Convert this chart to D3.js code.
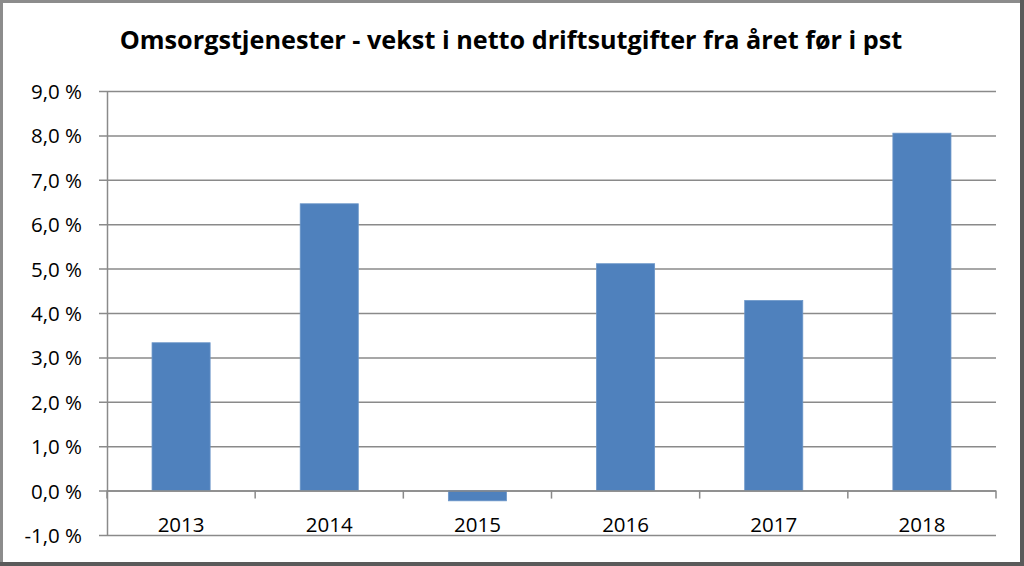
<!DOCTYPE html>
<html><head><meta charset="utf-8">
<script src="https://cdn.jsdelivr.net/npm/d3@7"></script>
<style>html,body{margin:0;padding:0;background:#fff;}svg{display:block;}</style>
</head><body>
<script>
const categories = ["2013","2014","2015","2016","2017","2018"];
const values = [3.33, 6.46, -0.23, 5.11, 4.28, 8.05];
const yTicks = [-1,0,1,2,3,4,5,6,7,8,9];
const title = "Omsorgstjenester - vekst i netto driftsutgifter fra året før i pst";

(function(){
const W = 1024, H = 566;
const svg = d3.select("body").append("svg").attr("width", W).attr("height", H);
svg.append("rect").attr("x",0).attr("y",0).attr("width",W).attr("height",H).attr("fill","#fff");
// frame
svg.append("rect").attr("x",1.5).attr("y",1.5).attr("width",W-4).attr("height",H-4)
  .attr("fill","none").attr("stroke","#8c8c8c").attr("stroke-width",3);
svg.append("line").attr("x1",0).attr("x2",W).attr("y1",H-2).attr("y2",H-2).attr("stroke","#5a5a5a").attr("stroke-width",4);
svg.append("line").attr("x1",W-2).attr("x2",W-2).attr("y1",0).attr("y2",H).attr("stroke","#5a5a5a").attr("stroke-width",4);

const pl = 107, pr = 996, pt = 91, pb = 535;
const x = d3.scaleBand().domain(categories).range([pl, pr]).paddingInner(0.608).paddingOuter(0.304);
const y = d3.scaleLinear().domain([-1, 9]).range([pb, pt]);

const font = "'Open Sans', Lato, sans-serif";
const t = svg.append("text").attr("x", 511).attr("y", 49).attr("text-anchor","middle")
  .attr("font-family", font).attr("font-weight","bold").attr("font-size", 24).attr("fill","#000")
  .text(title);
const tw = t.node().getComputedTextLength();
t.attr("font-size", 24 * 783 / tw);

// gridlines
svg.append("g").selectAll("line").data(yTicks).join("line")
  .attr("x1", pl-8).attr("x2", pr).attr("y1", d=>y(d)+0.5).attr("y2", d=>y(d)+0.5)
  .attr("stroke","#8a8a8a").attr("stroke-width",1.5);
// y axis line
svg.append("line").attr("x1",pl+0.5).attr("x2",pl+0.5).attr("y1",pt).attr("y2",pb)
  .attr("stroke","#8a8a8a").attr("stroke-width",1.5);
// y labels
svg.append("g").selectAll("text").data(yTicks).join("text")
  .attr("x", 82).attr("y", d=>y(d)+8).attr("text-anchor","end")
  .attr("font-family", font).attr("font-size", 20.5).attr("fill","#000")
  .text(d => d3.format(".1f")(d).replace(".", ",").replace("\u2212", "-") + " %");

// bars
svg.append("g").selectAll("rect").data(values).join("rect")
  .attr("x", (d,i)=>x(categories[i])).attr("width", x.bandwidth())
  .attr("y", d=>y(Math.max(0,d))).attr("height", d=>Math.abs(y(d)-y(0)))
  .attr("fill","#4f81bd").attr("stroke","#6a95c8").attr("stroke-width",0.8);

// x axis at zero
svg.append("line").attr("x1",pl).attr("x2",pr).attr("y1",y(0)+0.5).attr("y2",y(0)+0.5)
  .attr("stroke","#8a8a8a").attr("stroke-width",1.5);
const step = x.step();
const bounds = d3.range(categories.length+1).map(i => pl + i*step);
svg.append("g").selectAll("line").data(bounds).join("line")
  .attr("x1", d=>d).attr("x2", d=>d).attr("y1", y(0)).attr("y2", y(0)+8)
  .attr("stroke","#8a8a8a").attr("stroke-width",1.5);
// x labels
svg.append("g").selectAll("text").data(categories).join("text")
  .attr("x", d=>x(d)+x.bandwidth()/2).attr("y", 532).attr("text-anchor","middle")
  .attr("font-family", font).attr("font-size", 20.5).attr("fill","#000")
  .text(d=>d);
})();
</script>
</body></html>
